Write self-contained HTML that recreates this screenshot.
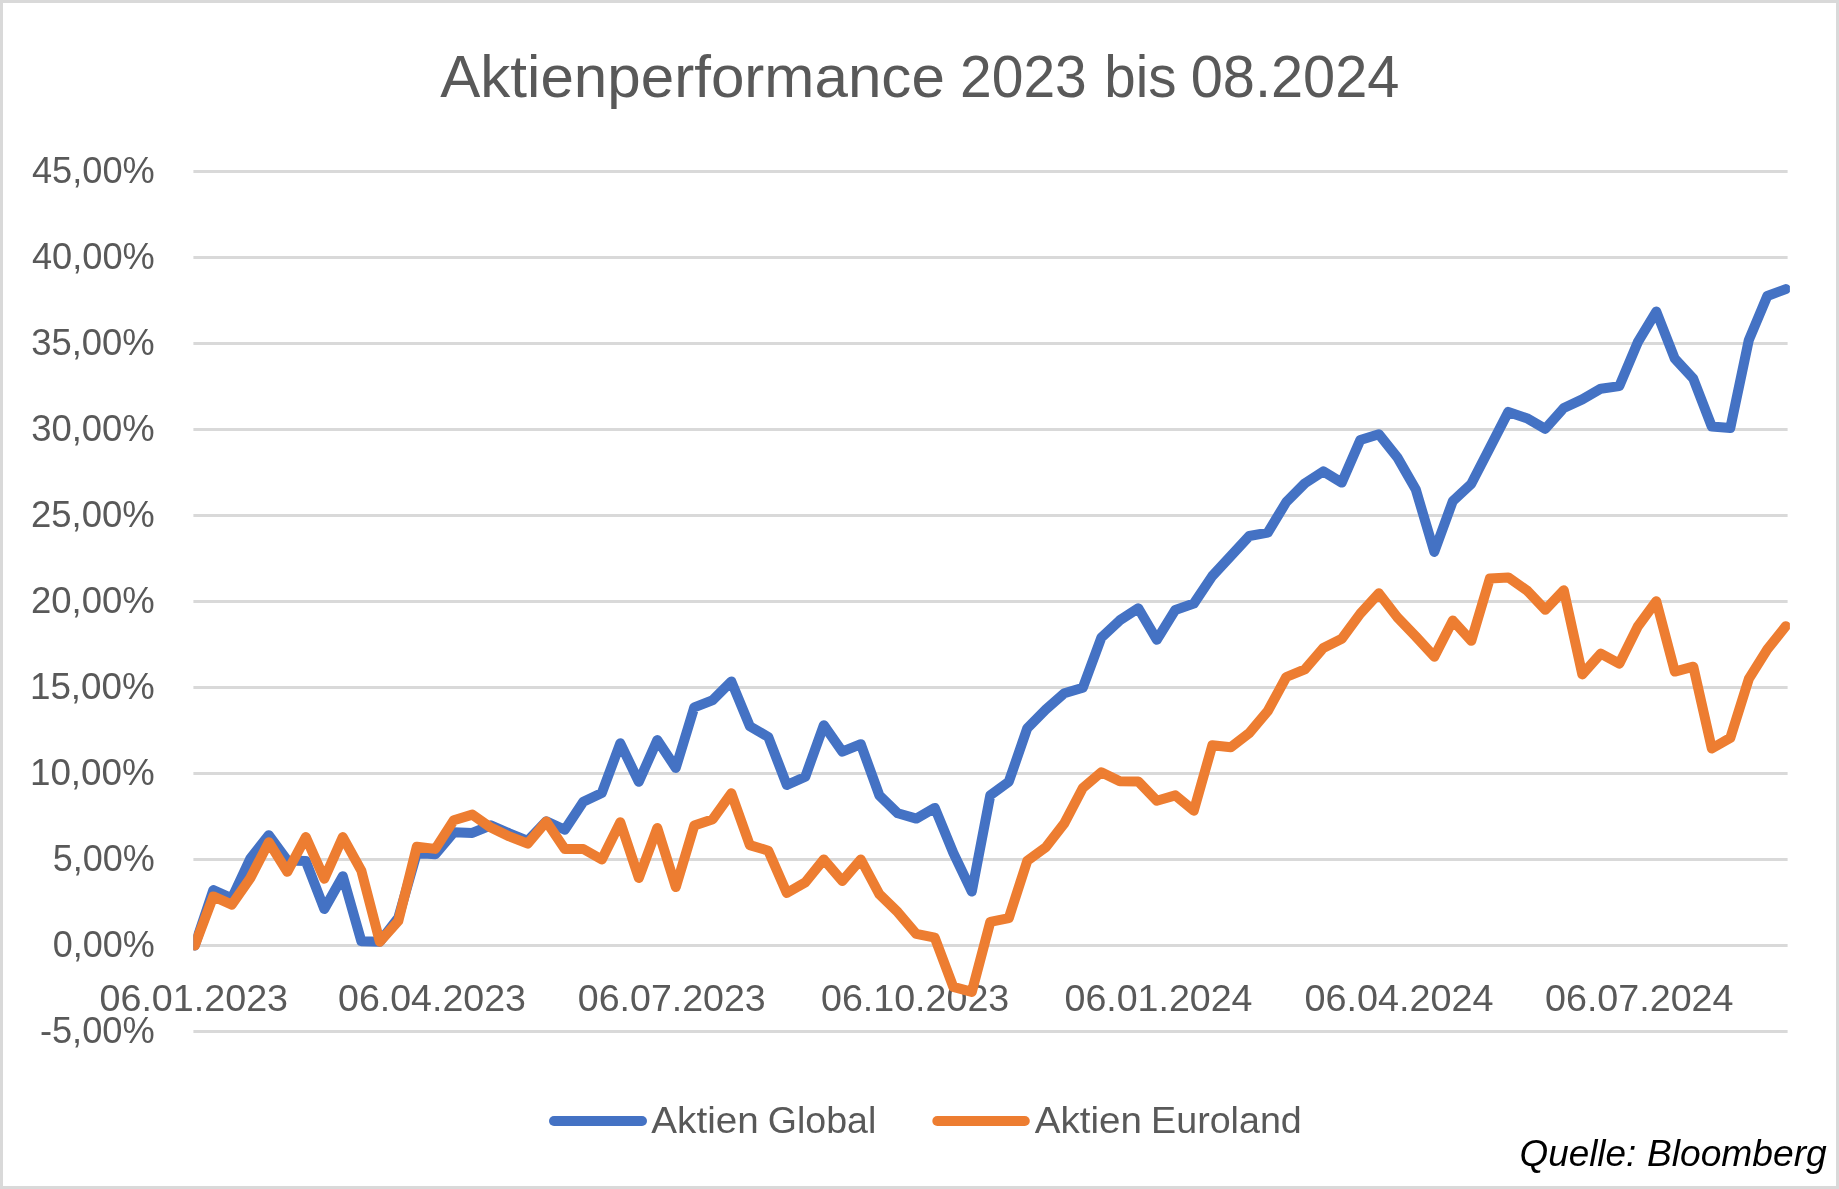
<!DOCTYPE html>
<html><head><meta charset="utf-8"><title>Aktienperformance</title>
<style>
html,body{margin:0;padding:0;background:#fff;}
body{width:1839px;height:1189px;overflow:hidden;}
svg{display:block;will-change:transform;}
text{font-family:"Liberation Sans",sans-serif;}
</style></head><body>
<svg width="1839" height="1189" viewBox="0 0 1839 1189">
<rect x="0" y="0" width="1839" height="1189" fill="#D9D9D9"/>
<rect x="3" y="3" width="1833" height="1183" fill="#FFFFFF"/>
<defs><clipPath id="plot"><rect x="193.3" y="150" width="1596.6" height="900"/></clipPath></defs>
<rect x="193.4" y="170" width="1594.2" height="3" fill="#D9D9D9"/>
<rect x="193.4" y="256" width="1594.2" height="3" fill="#D9D9D9"/>
<rect x="193.4" y="342" width="1594.2" height="3" fill="#D9D9D9"/>
<rect x="193.4" y="428" width="1594.2" height="3" fill="#D9D9D9"/>
<rect x="193.4" y="514" width="1594.2" height="3" fill="#D9D9D9"/>
<rect x="193.4" y="600" width="1594.2" height="3" fill="#D9D9D9"/>
<rect x="193.4" y="686" width="1594.2" height="3" fill="#D9D9D9"/>
<rect x="193.4" y="772" width="1594.2" height="3" fill="#D9D9D9"/>
<rect x="193.4" y="858" width="1594.2" height="3" fill="#D9D9D9"/>
<rect x="193.4" y="944" width="1594.2" height="3" fill="#D9D9D9"/>
<rect x="193.4" y="1030" width="1594.2" height="3" fill="#D9D9D9"/>
<text x="440.15" y="96.8" font-size="59.2" fill="#595959" textLength="504.70" lengthAdjust="spacingAndGlyphs">Aktienperformance</text>
<text x="960.05" y="96.8" font-size="59.2" fill="#595959" textLength="126.75" lengthAdjust="spacingAndGlyphs">2023</text>
<text x="1104.25" y="96.8" font-size="59.2" fill="#595959" textLength="72.25" lengthAdjust="spacingAndGlyphs">bis</text>
<text x="1190.75" y="96.8" font-size="59.2" fill="#595959" textLength="208.70" lengthAdjust="spacingAndGlyphs">08.2024</text>
<text x="31.95" y="183.3" font-size="37.8" fill="#595959" textLength="122.80" lengthAdjust="spacingAndGlyphs">45,00%</text>
<text x="31.95" y="269.3" font-size="37.8" fill="#595959" textLength="122.80" lengthAdjust="spacingAndGlyphs">40,00%</text>
<text x="31.20" y="355.3" font-size="37.8" fill="#595959" textLength="123.55" lengthAdjust="spacingAndGlyphs">35,00%</text>
<text x="31.20" y="441.3" font-size="37.8" fill="#595959" textLength="123.55" lengthAdjust="spacingAndGlyphs">30,00%</text>
<text x="30.95" y="527.3" font-size="37.8" fill="#595959" textLength="123.80" lengthAdjust="spacingAndGlyphs">25,00%</text>
<text x="30.95" y="613.3" font-size="37.8" fill="#595959" textLength="123.80" lengthAdjust="spacingAndGlyphs">20,00%</text>
<text x="29.95" y="699.3" font-size="37.8" fill="#595959" textLength="124.80" lengthAdjust="spacingAndGlyphs">15,00%</text>
<text x="29.95" y="785.3" font-size="37.8" fill="#595959" textLength="124.80" lengthAdjust="spacingAndGlyphs">10,00%</text>
<text x="52.70" y="871.3" font-size="37.8" fill="#595959" textLength="102.05" lengthAdjust="spacingAndGlyphs">5,00%</text>
<text x="52.70" y="957.3" font-size="37.8" fill="#595959" textLength="102.05" lengthAdjust="spacingAndGlyphs">0,00%</text>
<text x="39.90" y="1043.3" font-size="37.8" fill="#595959" textLength="114.85" lengthAdjust="spacingAndGlyphs">-5,00%</text>
<text x="99.50" y="1011.0" font-size="37.8" fill="#595959" textLength="188.55" lengthAdjust="spacingAndGlyphs">06.01.2023</text>
<text x="338.00" y="1011.0" font-size="37.8" fill="#595959" textLength="187.95" lengthAdjust="spacingAndGlyphs">06.04.2023</text>
<text x="577.80" y="1011.0" font-size="37.8" fill="#595959" textLength="187.95" lengthAdjust="spacingAndGlyphs">06.07.2023</text>
<text x="821.00" y="1011.0" font-size="37.8" fill="#595959" textLength="188.25" lengthAdjust="spacingAndGlyphs">06.10.2023</text>
<text x="1064.50" y="1011.0" font-size="37.8" fill="#595959" textLength="188.00" lengthAdjust="spacingAndGlyphs">06.01.2024</text>
<text x="1304.50" y="1011.0" font-size="37.8" fill="#595959" textLength="189.00" lengthAdjust="spacingAndGlyphs">06.04.2024</text>
<text x="1545.00" y="1011.0" font-size="37.8" fill="#595959" textLength="188.50" lengthAdjust="spacingAndGlyphs">06.07.2024</text>
<text x="651.35" y="1132.8" font-size="37.8" fill="#595959" textLength="107.35" lengthAdjust="spacingAndGlyphs">Aktien</text>
<text x="767.80" y="1132.8" font-size="37.8" fill="#595959" textLength="108.50" lengthAdjust="spacingAndGlyphs">Global</text>
<text x="1034.75" y="1132.8" font-size="37.8" fill="#595959" textLength="107.15" lengthAdjust="spacingAndGlyphs">Aktien</text>
<text x="1151.10" y="1132.8" font-size="37.8" fill="#595959" textLength="150.70" lengthAdjust="spacingAndGlyphs">Euroland</text>
<text x="1519.55" y="1166.0" font-size="37.3" font-style="italic" fill="#000000" textLength="116.75" lengthAdjust="spacingAndGlyphs">Quelle:</text>
<text x="1646.95" y="1166.0" font-size="37.3" font-style="italic" fill="#000000" textLength="179.85" lengthAdjust="spacingAndGlyphs">Bloomberg</text>
<g clip-path="url(#plot)" fill="none" stroke-width="10" stroke-linejoin="round" stroke-linecap="round">
<polyline stroke="#4472C4" points="194.8,945.5 213.3,890.1 231.8,898.3 250.3,858.6 268.8,835.2 287.3,860.5 305.8,861.1 324.3,909.0 342.8,876.2 361.3,941.2 379.8,941.8 398.3,917.9 416.8,853.1 435.3,854.3 453.8,832.3 472.3,832.9 490.8,825.3 509.3,833.4 527.8,840.8 546.3,821.3 564.8,829.7 583.3,801.7 601.8,793.0 620.3,743.3 638.8,781.8 657.3,740.1 675.8,767.9 694.3,707.3 712.8,700.1 731.3,681.4 749.8,726.2 768.3,737.0 786.8,785.0 805.3,776.7 823.8,725.2 842.3,751.7 860.8,744.2 879.3,795.3 897.8,813.3 916.3,818.6 934.8,807.9 953.3,852.8 971.8,891.6 990.3,795.3 1008.8,781.7 1027.3,728.2 1045.8,709.5 1064.3,693.2 1082.8,687.8 1101.3,637.7 1119.8,620.3 1138.3,608.3 1156.8,639.8 1175.3,609.9 1193.8,603.6 1212.3,576.0 1230.8,556.0 1249.3,536.0 1267.8,532.6 1286.3,502.0 1304.8,483.4 1323.3,471.4 1341.8,482.6 1360.3,440.0 1378.8,434.2 1397.3,457.3 1415.8,489.5 1434.3,551.9 1452.8,501.1 1471.3,483.8 1489.8,447.9 1508.3,411.9 1526.8,418.2 1545.3,428.8 1563.8,408.0 1582.3,399.4 1600.8,388.7 1619.3,386.1 1637.8,342.2 1656.3,311.5 1674.8,358.7 1693.3,378.7 1711.8,426.6 1730.3,428.0 1748.8,340.1 1767.3,296.0 1785.8,289.1"/>
<polyline stroke="#ED7D31" points="194.8,945.5 213.3,896.4 231.8,904.6 250.3,878.1 268.8,842.2 287.3,871.8 305.8,837.1 324.3,878.8 342.8,837.1 361.3,870.6 379.8,941.8 398.3,921.0 416.8,846.7 435.3,848.9 453.8,820.3 472.3,814.6 490.8,827.6 509.3,836.4 527.8,843.6 546.3,821.5 564.8,849.0 583.3,849.0 601.8,859.5 620.3,822.3 638.8,877.9 657.3,828.0 675.8,887.1 694.3,825.5 712.8,819.2 731.3,793.3 749.8,845.1 768.3,850.7 786.8,893.0 805.3,882.3 823.8,859.5 842.3,880.9 860.8,859.5 879.3,894.2 897.8,912.2 916.3,933.9 934.8,937.7 953.3,986.9 971.8,991.9 990.3,921.9 1008.8,918.1 1027.3,860.7 1045.8,847.3 1064.3,823.4 1082.8,788.0 1101.3,772.3 1119.8,781.2 1138.3,781.5 1156.8,800.7 1175.3,795.4 1193.8,810.7 1212.3,745.3 1230.8,747.3 1249.3,733.0 1267.8,711.0 1286.3,677.0 1304.8,669.4 1323.3,647.9 1341.8,638.7 1360.3,613.6 1378.8,593.3 1397.3,617.2 1415.8,636.5 1434.3,656.7 1452.8,620.5 1471.3,640.8 1489.8,578.6 1508.3,577.4 1526.8,590.3 1545.3,609.8 1563.8,590.3 1582.3,674.4 1600.8,653.6 1619.3,663.7 1637.8,626.5 1656.3,601.3 1674.8,671.6 1693.3,666.7 1711.8,748.5 1730.3,737.9 1748.8,678.9 1767.3,649.3 1785.8,626.2"/>
</g>
<line x1="554" y1="1121" x2="642" y2="1121" stroke="#4472C4" stroke-width="10" stroke-linecap="round"/>
<line x1="937.3" y1="1121" x2="1024.8" y2="1121" stroke="#ED7D31" stroke-width="10" stroke-linecap="round"/>
</svg></body></html>
